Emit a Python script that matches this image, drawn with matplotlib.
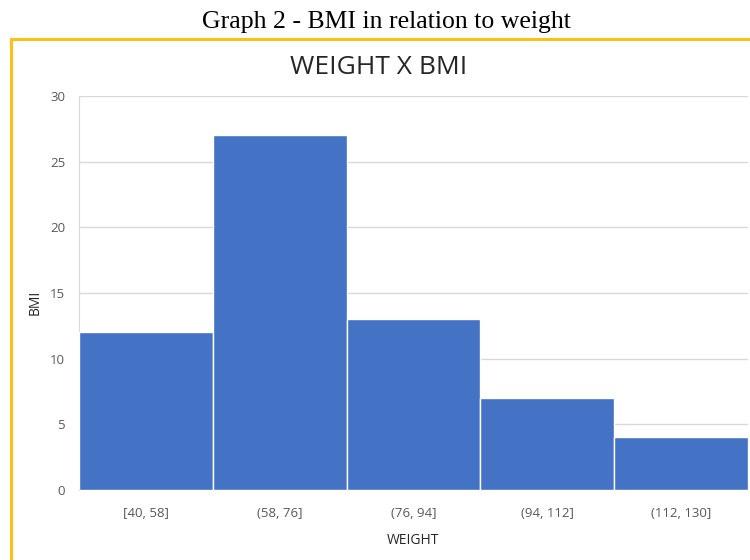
import matplotlib.pyplot as plt
from matplotlib.patches import Rectangle

# datos del histograma
categorias = ["[40, 58]", "(58, 76]", "(76, 94]", "(94, 112]", "(112, 130]"]
valores = [12, 27, 13, 7, 4]
yticks = [0, 5, 10, 15, 20, 25, 30]

azul = "#4472C4"
gris_txt = "#595959"
gris_grid = "#D9D9D9"

fig = plt.figure(figsize=(7.5, 5.6), dpi=100)

# marco dorado (recortado a la derecha y abajo)
fig.patches.append(Rectangle((11 / 750, -0.1), 1.2, (560 - 39) / 560 + 0.1,
                             transform=fig.transFigure, fill=False,
                             edgecolor="#FBC11B", lw=2.2))

# leyenda superior
fig.text(386 / 750, 1 - 22 / 560, "Graph 2 - BMI in relation to weight",
         family="Liberation Serif", fontsize=18.5, ha="center", va="center")

ax = fig.add_axes([79 / 750, 1 - 490 / 560, 669 / 750, 394 / 560])
x = range(len(categorias))
ax.bar(x, valores, width=1.0, color=azul, edgecolor="white", lw=1, zorder=3)

ax.set_xlim(-0.5, len(categorias) - 0.5)
ax.set_ylim(0, 30)
ax.set_yticks(yticks)
ax.set_xticks(list(x))
ax.set_xticklabels(categorias)
ax.grid(axis="y", color=gris_grid, lw=1, zorder=0)
for s in ["top", "right", "bottom"]:
    ax.spines[s].set_visible(False)
ax.spines["left"].set_color(gris_grid)
ax.tick_params(length=0, colors=gris_txt, labelsize=9.5, pad=10)
ax.tick_params(axis="x", pad=12)
for lbl in ax.get_xticklabels() + ax.get_yticklabels():
    lbl.set_family("Open Sans")

fig.text(379 / 750, 1 - 68 / 560, "WEIGHT X BMI", family="Open Sans",
         fontsize=19, ha="center", va="center", color="#262626")
fig.text(35 / 750, 1 - 302 / 560, "BMI", family="Open Sans", fontsize=10,
         rotation=90, ha="center", va="center", color="#262626")
fig.text(413 / 750, 1 - 541 / 560, "WEIGHT", family="Open Sans", fontsize=10,
         ha="center", va="center", color="#262626")

fig.savefig("out.png", dpi=100)
